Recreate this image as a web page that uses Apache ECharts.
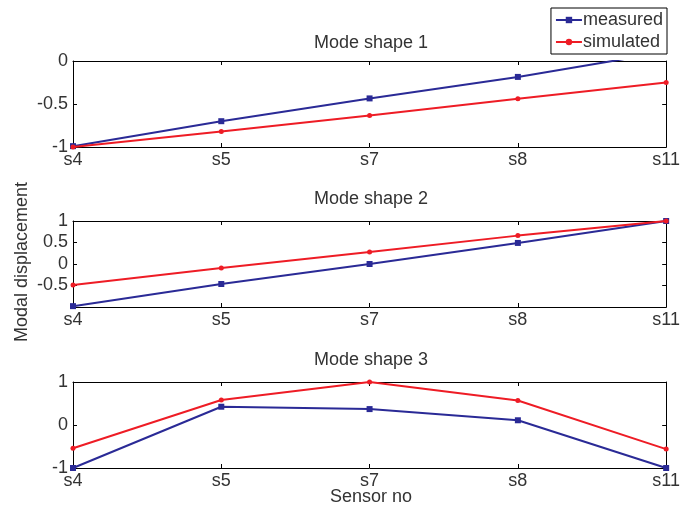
<!DOCTYPE html>
<html><head><meta charset="utf-8">
<script src="https://cdn.jsdelivr.net/npm/echarts@6/dist/echarts.min.js"></script>
<style>html,body{margin:0;padding:0;background:#fff}#c{width:683px;height:513px}</style>
</head><body><div id="c"></div>
<script>
const sensors = ['s4','s5','s7','s8','s11'];
const titles = ['Mode shape 1','Mode shape 2','Mode shape 3'];
const measured1 = [-0.99,-0.70,-0.435,-0.185,0.105];
const simulated1 = [-1.0,-0.82,-0.635,-0.44,-0.25];
const measured2 = [-0.98,-0.465,0.0,0.49,1.0];
const simulated2 = [-0.49,-0.095,0.28,0.66,1.0];
const measured3 = [-1.0,0.425,0.37,0.11,-1.0];
const simulated3 = [-0.54,0.58,1.0,0.57,-0.56];
const yMins = [-1,-1,-1];
const yMaxs = [0,1,1];
const yIntervals = [0.5,0.5,1];

const font = 'Liberation Sans, Arial, sans-serif';
const fs = 18;
const txt = '#333';
const blue = '#2a2a96';
const red = '#ee1c25';
const tops = [61,221,382];
const heights = [86,86,86];
const titleCenters = [43,199,360];
const measuredAll = [measured1,measured2,measured3];
const simulatedAll = [simulated1,simulated2,simulated3];

const grids = [], xAxes = [], yAxes = [], series = [], graphics = [];
for (let i=0;i<3;i++){
  grids.push({left:73,right:13,top:tops[i],height:heights[i],show:false});
  graphics.push({type:'text',x:371,y:titleCenters[i],
    style:{text:titles[i],font:fs+'px Liberation Sans, Arial, sans-serif',fill:txt,align:'center',verticalAlign:'middle'}});
  xAxes.push({type:'category',gridIndex:i,data:sensors,boundaryGap:false,position:'bottom',
    axisLine:{onZero:false,lineStyle:{color:'#000'}},axisTick:{inside:true,length:4,lineStyle:{color:'#000'}},
    axisLabel:{fontFamily:font,fontSize:fs,color:txt,margin:4,showMaxLabel:true,showMinLabel:true},splitLine:{show:false}});
  xAxes.push({type:'category',gridIndex:i,data:sensors,boundaryGap:false,position:'top',
    axisLine:{onZero:false,lineStyle:{color:'#000'}},axisTick:{inside:true,length:4,lineStyle:{color:'#000'}},
    axisLabel:{show:false},splitLine:{show:false}});
  yAxes.push({type:'value',gridIndex:i,min:yMins[i],max:yMaxs[i],interval:yIntervals[i],position:'left',
    axisLine:{show:true,onZero:false,lineStyle:{color:'#000'}},axisTick:{show:true,inside:true,length:4,lineStyle:{color:'#000'}},
    axisLabel:{fontFamily:font,fontSize:fs,color:txt,margin:5,showMinLabel:i!==1},splitLine:{show:false}});
  yAxes.push({type:'value',gridIndex:i,min:yMins[i],max:yMaxs[i],interval:yIntervals[i],position:'right',
    axisLine:{show:true,onZero:false,lineStyle:{color:'#000'}},axisTick:{show:true,inside:true,length:4,lineStyle:{color:'#000'}},
    axisLabel:{show:false},splitLine:{show:false}});
  series.push({name:'measured',type:'line',xAxisIndex:2*i,yAxisIndex:2*i,data:measuredAll[i],clip:true,
    symbol:'rect',symbolSize:6,lineStyle:{color:blue,width:2},itemStyle:{color:blue},z:2});
  series.push({name:'simulated',type:'line',xAxisIndex:2*i,yAxisIndex:2*i,data:simulatedAll[i],clip:true,
    symbol:'circle',symbolSize:5,lineStyle:{color:red,width:2},itemStyle:{color:red},z:3});
}
graphics.push({type:'text',x:371,y:497,
  style:{text:'Sensor no',font:fs+'px Liberation Sans, Arial, sans-serif',fill:txt,align:'center',verticalAlign:'middle'}});
graphics.push({type:'text',x:22,y:262,rotation:Math.PI/2,
  style:{text:'Modal displacement',font:fs+'px Liberation Sans, Arial, sans-serif',fill:txt,align:'center',verticalAlign:'middle'}});

const chart = echarts.init(document.getElementById('c'),null,{renderer:'canvas'});
chart.setOption({
  animation:false,
  backgroundColor:'#fff',
  graphic:graphics,
  legend:{data:['measured','simulated'],orient:'vertical',right:16,top:8,
    backgroundColor:'#fff',borderColor:'#000',borderWidth:1,padding:[3,4,3,4],itemGap:4,itemWidth:26,itemHeight:8,
    textStyle:{fontFamily:font,fontSize:fs,color:txt,padding:[0,0,0,-4]}},
  grid:grids,xAxis:xAxes,yAxis:yAxes,series:series
});
</script></body></html>
